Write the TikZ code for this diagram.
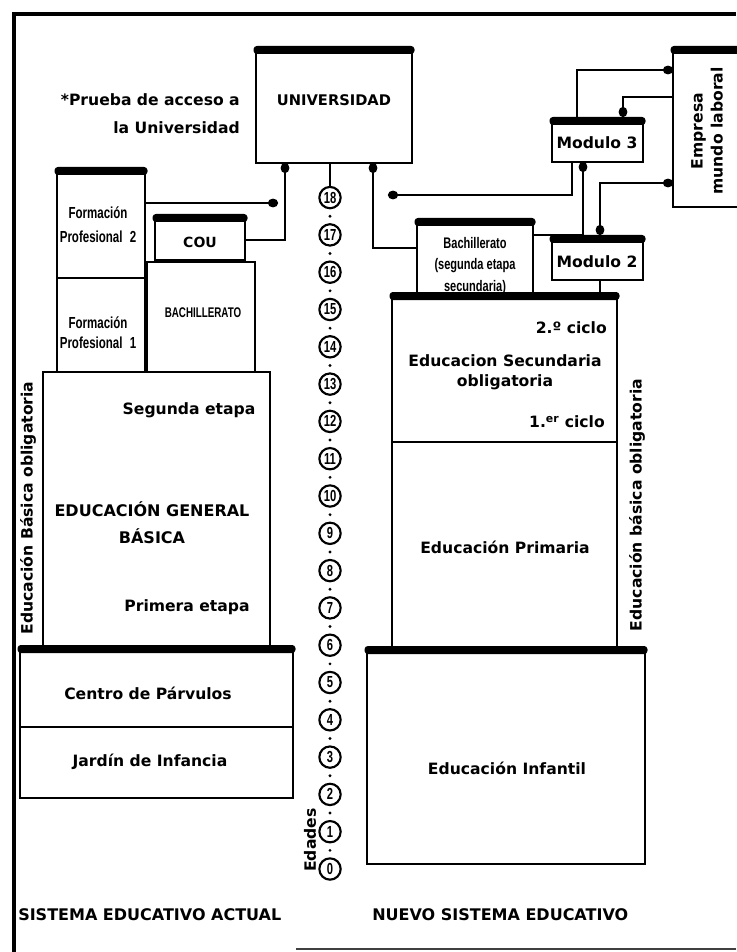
\documentclass[tikz,border=0pt]{standalone}
\usepackage{fontspec}
\setmainfont{DejaVu Sans}
\newfontfamily\condf[FakeStretch=0.72]{Liberation Sans}
\newfontfamily\condn[FakeStretch=0.70]{Liberation Sans}
\usetikzlibrary{calc,fit,arrows.meta}
\tikzset{
 bx/.style={draw, line width=1.7pt, fill=white, inner sep=0pt, outer sep=0pt},
 lbl/.style={font=\bfseries\fontsize{11.7}{14}\selectfont, align=center, inner sep=0pt},
 cnd/.style={font=\condf\bfseries\fontsize{12}{15}\selectfont, align=center, inner sep=0pt},
 conn/.style={line width=2pt},
 age/.style={draw, circle, line width=1.6pt, minimum size=16pt, inner sep=0pt, font=\condn\bfseries\fontsize{12}{12}\selectfont, fill=white},
 blob/.tip={Ellipse[length=7.5pt,width=6.5pt]},
}
\newcommand\mkbox[5]{\node[bx, fit={(#2,#3) (#4,#5)}] (#1) {};}
\newcommand\lid[1]{\fill[rounded corners=2.5pt] ($(#1.north west)+(-2.5,2)$) rectangle ($(#1.north east)+(2.5,-6)$);}
\begin{document}
\begin{tikzpicture}[x=0.75pt,y=-0.75pt]
\useasboundingbox (0,0) rectangle (736,952);
\fill[white] (0,0) rectangle (736,952);
% frame
\draw[line width=3.4pt] (14,952) -- (14,14) -- (736,14);
\draw[line width=1.5pt, black!75] (296,949) -- (736,949);

% ---- left: current system
\mkbox{univ}{256}{52}{412}{163} \lid{univ}
\node[lbl, font=\bfseries\fontsize{11}{13}\selectfont] (tuniv) at (334,100) {UNIVERSIDAD};
\node[lbl, anchor=east, align=right, font=\bfseries\fontsize{11.7}{21}\selectfont] (tprueba) at (240,114) {*Prueba de acceso a\\la Universidad};

\mkbox{egb}{43}{372}{270}{649}
\mkbox{fp2}{57}{173}{145}{278} \lid{fp2}
\mkbox{fp1}{57}{278}{145}{372}
\mkbox{bachl}{147}{262}{255}{372}
\mkbox{cou}{155}{220}{245}{260} \lid{cou}
\mkbox{parv}{20}{651}{293}{727} \lid{parv}
\mkbox{jard}{20}{727}{293}{798}

\node[cnd, font=\condf\bfseries\fontsize{12}{18}\selectfont] (tfp2) at (98,225) {Formación\\Profesional\hspace{3pt} 2};
\node[cnd, font=\condf\bfseries\fontsize{12}{15}\selectfont] (tfp1) at (98,333) {Formación\\Profesional\hspace{3pt} 1};
\node[cnd, font=\condn\bfseries\fontsize{10.5}{12}\selectfont] (tbachl) at (203,313) {BACHILLERATO};
\node[lbl, font=\bfseries\fontsize{10.5}{12}\selectfont] (tcou) at (200,242) {COU};
\node[lbl] (tseg) at (189,410) {Segunda etapa};
\node[lbl, font=\bfseries\fontsize{12}{20}\selectfont] (tegb) at (152,523) {EDUCACIÓN GENERAL\\BÁSICA};
\node[lbl] (tprim1) at (187,607) {Primera etapa};
\node[lbl] (tparv) at (148,693) {Centro de Párvulos};
\node[lbl] (tjard) at (150,762) {Jardín de Infancia};
\node[lbl, rotate=90] (tebo) at (28,508) {Educación Básica obligatoria};

% ---- right: new system
\mkbox{emp}{673}{52}{760}{207} \lid{emp}
\mkbox{m3}{552}{123}{643}{162} \lid{m3}
\mkbox{m2}{552}{241}{643}{280} \lid{m2}
\mkbox{bach2}{417}{224}{533}{298} \lid{bach2}
\mkbox{sec}{392}{298}{617}{442} \lid{sec}
\mkbox{prim}{392}{442}{617}{650}
\mkbox{inf}{367}{652}{645}{864} \lid{inf}

\node[lbl, rotate=90, font=\bfseries\fontsize{11.7}{15}\selectfont] (temp) at (707,131) {Empresa\\mundo laboral};
\node[lbl] (tm3) at (597,143) {Modulo 3};
\node[lbl] (tm2) at (597,262) {Modulo 2};
\node[cnd, font=\condf\bfseries\fontsize{11.5}{16}\selectfont] (tbach2) at (475,266) {Bachillerato\\(segunda etapa\\secundaria)};
\node[lbl, anchor=east] (tc2) at (607,328) {2.º ciclo};
\node[lbl, font=\bfseries\fontsize{11.7}{15}\selectfont] (tsec) at (505,372) {Educacion Secundaria\\obligatoria};
\node[lbl, anchor=east] (tc1) at (605,422) {1.\textsuperscript{er} ciclo};
\node[lbl] (tprim) at (505,547) {Educación Primaria};
\node[lbl] (tinf) at (507,768) {Educación Infantil};
\node[lbl, rotate=90] (tebo2) at (637,505) {Educación básica obligatoria};

% ---- bottom titles
\node[lbl, anchor=west, font=\bfseries\fontsize{12}{14}\selectfont] (tsea) at (18,915) {SISTEMA EDUCATIVO ACTUAL};
\node[lbl, anchor=west, font=\bfseries\fontsize{12}{14}\selectfont] (tnse) at (372,915) {NUEVO SISTEMA EDUCATIVO};

% ---- ages
\foreach \k in {0,...,18} { \node[age] (a\k) at (330,{869-37.3*\k}) {\k}; }
\foreach \k [evaluate=\k as \j using int(\k+1)] in {0,...,17} { \fill ($(a\k)!0.5!(a\j)$) circle (1.6); }
\node[lbl, rotate=90, anchor=west] (tedad) at (310,872) {Edades};

% ---- connectors
\coordinate (fp2end) at (278,203);
\draw[conn,-blob] (fp2.north east |- fp2end) -- (fp2end);
\draw[conn,-blob] (cou.east) -| ($(univ.south west)+(29,0)$);
\draw[conn,blob-] ($(univ.south west)+(117,0)$) |- ($(bach2.north west)+(0,24)$);
\draw[conn] (a18 |- univ.south) -- (a18.north);
\coordinate (m3left) at (388,195);
\draw[conn,-blob] ($(m3.south west)+(20,0)$) |- (m3left);
\draw[conn,-blob] ($(bach2.north east)+(0,11)$) -| ($(m3.south west)+(31,0)$);
\draw[conn,-blob] ($(m3.north west)+(25,0)$) |- ($(emp.north west)+(0,18)$);
\draw[conn,-blob] ($(emp.north west)+(0,45)$) -| ($(m3.north west)+(71,-6)$);
\draw[conn,blob-blob] ($(emp.north west)+(0,131)$) -| ($(m2.north west)+(48,-6)$);
\coordinate (m2b) at ($(m2.south west)+(48,0)$);
\draw[conn] (m2b) -- (m2b |- sec.north);
\end{tikzpicture}
\end{document}
